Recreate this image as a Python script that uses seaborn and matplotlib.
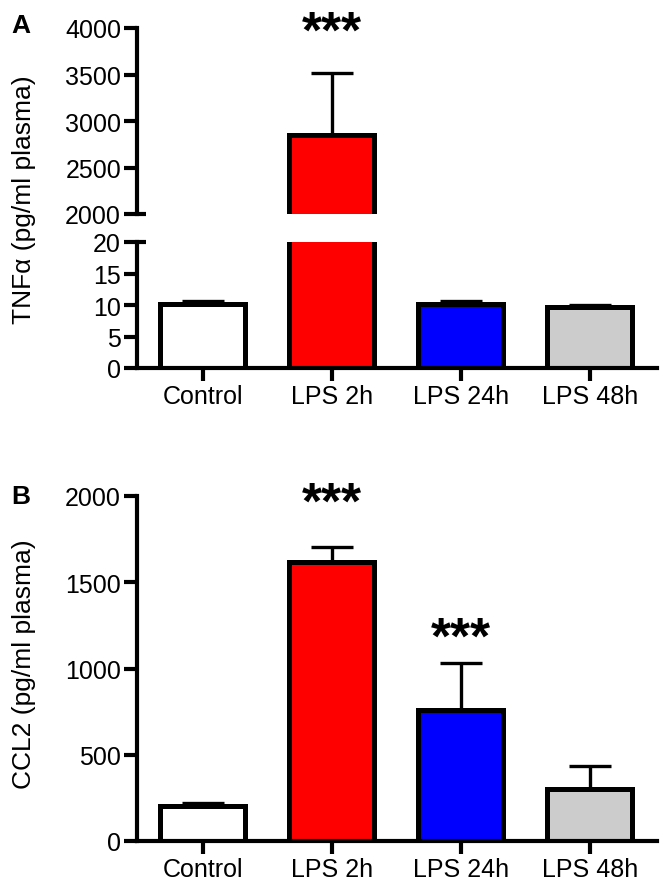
import matplotlib
matplotlib.use("Agg")
import matplotlib.pyplot as plt
import seaborn as sns
import numpy as np
from matplotlib.lines import Line2D

categories = ["Control", "LPS 2h", "LPS 24h", "LPS 48h"]
bar_colors = ["#FFFFFF", "#FF0000", "#0000FF", "#CCCCCC"]

tnf_mean = [10.2, 2845, 10.1, 9.65]
tnf_sem = [0.45, 675, 0.6, 0.35]

ccl2_mean = [201, 1616, 760, 300]
ccl2_sem = [20, 89, 269, 134]

tnf_upper_ticks = [2000, 2500, 3000, 3500, 4000]
tnf_lower_ticks = [0, 5, 10, 15, 20]
ccl2_ticks = [0, 500, 1000, 1500, 2000]

sns.set_style("ticks")
plt.rcParams["font.family"] = ["Liberation Sans", "DejaVu Sans"]
plt.rcParams["text.color"] = "black"

W, H = 661, 887
fig = plt.figure(figsize=(W / 100, H / 100), dpi=100)


def px_axes(left, top, right, bottom):
    return fig.add_axes([left / W, 1 - bottom / H, (right - left) / W, (bottom - top) / H])


ax_up = px_axes(137, 29, 657, 215)
ax_lo = px_axes(137, 243, 657, 369)
ax_b = px_axes(137, 497, 657, 842)

LW = 3.0
TICKLEN = 9.5


def draw(ax, means, sems):
    sns.barplot(x=categories, y=means, hue=categories, palette=bar_colors,
                edgecolor="black", linewidth=3.6, width=0.66, errorbar=None,
                legend=False, ax=ax, zorder=2, saturation=1)
    ax.errorbar(np.arange(len(categories)), means,
                yerr=[np.zeros(len(means)), sems], fmt="none", ecolor="black",
                elinewidth=2.4, capsize=15, capthick=2.4, zorder=1)
    ax.set_xlim(-0.51, 3.52)
    for s in ["top", "right"]:
        ax.spines[s].set_visible(False)
    for s in ["left", "bottom"]:
        ax.spines[s].set_linewidth(LW)
        ax.spines[s].set_color("black")
        ax.spines[s].set_capstyle("projecting")
    ax.tick_params(axis="both", direction="out", length=TICKLEN, width=LW,
                   labelsize=18, pad=2, colors="black", labelcolor="black")
    ax.set_xlabel("")
    ax.set_ylabel("")


draw(ax_up, tnf_mean, tnf_sem)
ax_up.set_ylim(2000, 4000)
ax_up.set_yticks(tnf_upper_ticks)
ax_up.spines["bottom"].set_visible(False)
ax_up.tick_params(axis="x", bottom=False, labelbottom=False)

draw(ax_lo, tnf_mean, tnf_sem)
ax_lo.set_ylim(0, 20)
ax_lo.set_yticks(tnf_lower_ticks)

draw(ax_b, ccl2_mean, ccl2_sem)
ax_b.set_ylim(0, 2000)
ax_b.set_yticks(ccl2_ticks)

# break marks
brk = 9 / 520
ax_up.add_line(Line2D([0, brk], [0, 0], transform=ax_up.transAxes, color="black",
                      lw=LW, clip_on=False, solid_capstyle="butt"))
ax_lo.add_line(Line2D([0, brk], [1, 1], transform=ax_lo.transAxes, color="black",
                      lw=LW, clip_on=False, solid_capstyle="butt"))

# significance stars
star_kw = dict(ha="center", va="center", fontsize=37, fontweight="bold",
               color="black", clip_on=False)
ax_up.text(1, 3950, "***", **star_kw)
ax_b.text(1, 1955, "***", **star_kw)
ax_b.text(2, 1170, "***", **star_kw)

# y labels
fig.text(24 / W, 1 - 200 / H, "TNFα (pg/ml plasma)", rotation=90,
         ha="center", va="center", fontsize=19, color="black")
fig.text(24 / W, 1 - 664 / H, "CCL2 (pg/ml plasma)", rotation=90,
         ha="center", va="center", fontsize=19, color="black")

# panel labels
fig.text(21 / W, 1 - 26 / H, "A", ha="center", va="center", fontsize=19,
         fontweight="bold", color="black")
fig.text(21 / W, 1 - 497 / H, "B", ha="center", va="center", fontsize=19,
         fontweight="bold", color="black")

fig.savefig("out.png", dpi=100)
